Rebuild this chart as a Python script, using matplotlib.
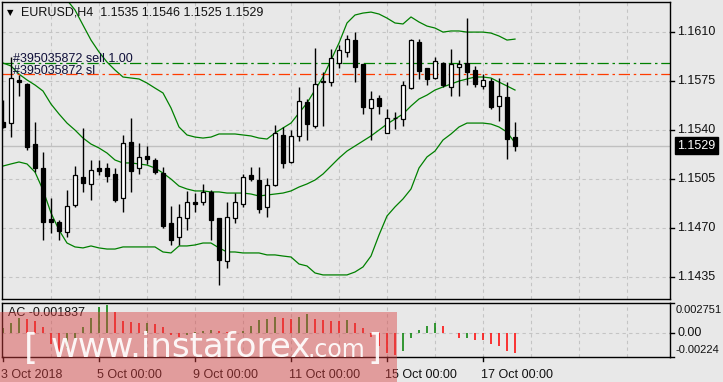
import matplotlib.pyplot as plt
from matplotlib.patches import Rectangle

plt.rcParams['font.family'] = ['Liberation Sans', 'DejaVu Sans']

# EURUSD H4 candles, 3 Oct 2018 00:00 .. 17 Oct 2018 16:00 (65 bars)
opens = [1.15462, 1.15450, 1.15760, 1.15731, 1.15302, 1.15129, 1.14767, 1.14747, 1.14672, 1.14867,
         1.15069, 1.15015, 1.15129, 1.15129, 1.15086, 1.14915, 1.15315, 1.15129, 1.15217, 1.15188,
         1.15093, 1.14736, 1.14636, 1.14772, 1.14890, 1.14886, 1.14962, 1.14772, 1.14469, 1.14772,
         1.14872, 1.15081, 1.15045, 1.14855, 1.15010, 1.15367, 1.15176, 1.15360, 1.15605, 1.15433,
         1.15747, 1.15747, 1.15879, 1.15962, 1.16045, 1.15874, 1.15557, 1.15629, 1.15383, 1.15486,
         1.15479, 1.15705, 1.16029, 1.15843, 1.15776, 1.15879, 1.15707, 1.15855, 1.15883, 1.15831,
         1.15719, 1.15752, 1.15576, 1.15636, 1.15350]
highs = [1.15617, 1.15924, 1.15795, 1.15738, 1.15462, 1.15247, 1.14917, 1.14760, 1.14974, 1.15145,
         1.15415, 1.15188, 1.15188, 1.15165, 1.15129, 1.15367, 1.15486, 1.15307, 1.15288, 1.15202,
         1.15140, 1.14860, 1.14874, 1.14969, 1.14950, 1.15015, 1.14974, 1.14774, 1.14890, 1.14950,
         1.15088, 1.15140, 1.15140, 1.15057, 1.15438, 1.15422, 1.15402, 1.15712, 1.15622, 1.15986,
         1.15819, 1.15981, 1.16010, 1.16081, 1.16100, 1.15874, 1.15681, 1.15652, 1.15550, 1.15531,
         1.15752, 1.16052, 1.16052, 1.15843, 1.15926, 1.15890, 1.15981, 1.15902, 1.16200, 1.15860,
         1.15802, 1.15772, 1.15772, 1.15747, 1.15460]
lows = [1.15417, 1.15352, 1.15645, 1.15260, 1.15105, 1.14617, 1.14667, 1.14617, 1.14640, 1.14852,
        1.14962, 1.14902, 1.15081, 1.15033, 1.14890, 1.14819, 1.14962, 1.15088, 1.15160, 1.15088,
        1.14700, 1.14581, 1.14581, 1.14688, 1.14819, 1.14867, 1.14617, 1.14295, 1.14415, 1.14740,
        1.14855, 1.15038, 1.14812, 1.14783, 1.15002, 1.15133, 1.15167, 1.15326, 1.15331, 1.15415,
        1.15431, 1.15717, 1.15843, 1.15926, 1.15747, 1.15517, 1.15331, 1.15515, 1.15379, 1.15410,
        1.15431, 1.15693, 1.15767, 1.15724, 1.15767, 1.15707, 1.15647, 1.15647, 1.15724, 1.15707,
        1.15693, 1.15552, 1.15469, 1.15193, 1.15250]
closes = [1.15426, 1.15772, 1.15743, 1.15283, 1.15133, 1.14747, 1.14747, 1.14683, 1.14860, 1.15081,
          1.15022, 1.15117, 1.15112, 1.15076, 1.14902, 1.15307, 1.15112, 1.15207, 1.15193, 1.15105,
          1.14719, 1.14617, 1.14783, 1.14886, 1.14872, 1.14962, 1.14760, 1.14474, 1.14783, 1.14886,
          1.15065, 1.15052, 1.14838, 1.15010, 1.15379, 1.15165, 1.15360, 1.15610, 1.15445, 1.15731,
          1.15750, 1.15915, 1.15974, 1.16052, 1.15855, 1.15569, 1.15622, 1.15576, 1.15486, 1.15488,
          1.15724, 1.16045, 1.15826, 1.15767, 1.15895, 1.15724, 1.15874, 1.15872, 1.15819, 1.15729,
          1.15760, 1.15565, 1.15647, 1.15336, 1.15290]

# Bollinger bands (upper starts at bar 6, above the chart before that)
bb_upper = [1.16524, 1.16417, 1.16331, 1.16260, 1.16152, 1.16045, 1.15960, 1.15888, 1.15831, 1.15781,
            1.15774, 1.15767, 1.15738, 1.15702, 1.15667, 1.15560, 1.15424, 1.15367, 1.15352, 1.15345,
            1.15352, 1.15374, 1.15374, 1.15374, 1.15367, 1.15360, 1.15345, 1.15338, 1.15381, 1.15417,
            1.15452, 1.15524, 1.15595, 1.15688, 1.15781, 1.15902, 1.16024, 1.16167, 1.16224, 1.16238,
            1.16245, 1.16231, 1.16202, 1.16167, 1.16160, 1.16210, 1.16174, 1.16145, 1.16131, 1.16102,
            1.16110, 1.16110, 1.16102, 1.16102, 1.16102, 1.16095, 1.16074, 1.16045, 1.16052]
bb_middle = [1.15881, 1.15860, 1.15802, 1.15760, 1.15724, 1.15681, 1.15588, 1.15517, 1.15452, 1.15402,
             1.15345, 1.15302, 1.15274, 1.15238, 1.15188, 1.15167, 1.15167, 1.15160, 1.15152, 1.15131,
             1.15095, 1.15052, 1.15002, 1.14981, 1.14967, 1.14967, 1.14960, 1.14960, 1.14952, 1.14952,
             1.14952, 1.14945, 1.14931, 1.14938, 1.14945, 1.14952, 1.14967, 1.14995, 1.15017, 1.15045,
             1.15088, 1.15145, 1.15202, 1.15252, 1.15288, 1.15324, 1.15360, 1.15402, 1.15445, 1.15481,
             1.15517, 1.15574, 1.15624, 1.15652, 1.15688, 1.15710, 1.15731, 1.15752, 1.15767, 1.15781,
             1.15781, 1.15774, 1.15745, 1.15717, 1.15688]
bb_lower = [1.15145, 1.15160, 1.15174, 1.15160, 1.15102, 1.14974, 1.14810, 1.14688, 1.14595, 1.14567,
            1.14560, 1.14574, 1.14560, 1.14552, 1.14552, 1.14567, 1.14567, 1.14567, 1.14567, 1.14567,
            1.14531, 1.14524, 1.14574, 1.14574, 1.14581, 1.14595, 1.14595, 1.14560, 1.14531, 1.14531,
            1.14524, 1.14524, 1.14524, 1.14510, 1.14510, 1.14502, 1.14495, 1.14445, 1.14431, 1.14381,
            1.14367, 1.14367, 1.14367, 1.14367, 1.14388, 1.14424, 1.14502, 1.14652, 1.14788, 1.14853,
            1.14910, 1.14981, 1.15131, 1.15210, 1.15252, 1.15331, 1.15374, 1.15424, 1.15452, 1.15452,
            1.15452, 1.15445, 1.15424, 1.15388, 1.15310]

# Accelerator oscillator
ac = [0.0004, 0.0009, 0.0014, 0.0013, 0.0011, 0.0005, -0.0010, -0.0018, -0.0014, -0.0007,
      0.0005, 0.0014, 0.0024, 0.0026, 0.0019, 0.0011, 0.0010, 0.0009, 0.0009, 0.0008,
      0.0005, -0.0002, -0.0004, -0.0002, 0.0001, 0.0002, 0.0003, 0.0002, 0.0001, 0.0001,
      0.0002, 0.0006, 0.0012, 0.0013, 0.0015, 0.0014, 0.0013, 0.0015, 0.0017, 0.0013,
      0.0012, 0.0011, 0.0011, 0.0012, 0.0009, 0.0004, -0.0004, -0.0012, -0.0019, -0.0021,
      -0.0017, -0.0005, 0.0003, 0.0006, 0.0009, 0.0006, 0.0000, -0.0005, -0.0005, -0.0007,
      -0.0007, -0.0010, -0.0012, -0.0017, -0.001837]
ac_color = ['g', 'g', 'g', 'r', 'r', 'r', 'r', 'r', 'g', 'g',
            'g', 'g', 'g', 'g', 'r', 'r', 'r', 'r', 'g', 'r',
            'r', 'r', 'r', 'g', 'g', 'g', 'g', 'r', 'r', 'g',
            'g', 'g', 'g', 'g', 'g', 'r', 'r', 'g', 'g', 'r',
            'r', 'r', 'r', 'g', 'r', 'r', 'r', 'r', 'r', 'r',
            'g', 'g', 'g', 'g', 'g', 'r', 'r', 'r', 'g', 'r',
            'r', 'r', 'r', 'r', 'r']

price_ticks = [1.1435, 1.1470, 1.1505, 1.1540, 1.1575, 1.1610]
time_ticks = [0, 12, 24, 36, 48, 60]
time_labels = ['3 Oct 2018', '5 Oct 00:00', '9 Oct 00:00', '11 Oct 00:00', '15 Oct 00:00', '17 Oct 00:00']
order_price = 1.15881
sl_price = 1.15802
last_price = 1.1529
ac_max, ac_min = 0.002751, -0.00224

W, H = 723, 382
bg = '#e8e8e8'
grid_c = '#c4c4c4'
green = '#008000'
red = '#ff0000'

fig = plt.figure(figsize=(W / 100, H / 100), dpi=100)
fig.patch.set_facecolor(bg)


def fig_rect(x0, y0, x1, y1):
    # pixel box (top-left origin) -> figure fraction
    return [x0 / W, 1 - y1 / H, (x1 - x0) / W, (y1 - y0) / H]


ax = fig.add_axes(fig_rect(2, 2, 670, 299))
ax2 = fig.add_axes(fig_rect(2, 303, 670, 357))
xlim = (-0.125, 83.375)

for a in (ax, ax2):
    a.set_facecolor(bg)
    a.set_xlim(*xlim)
    for s in a.spines.values():
        s.set_color('black')
        s.set_linewidth(1)
    a.set_xticks([])
    a.set_yticks([])
    for d in range(6, 84, 6):
        a.axvline(d, color=grid_c, lw=0.8, ls=(0, (3, 3)), zorder=0)

# ---- main chart ----
ax.set_ylim(1.14195, 1.16317)
for p in price_ticks:
    ax.axhline(p, color=grid_c, lw=0.8, ls=(0, (3, 3)), zorder=0)
ax.axhline(last_price, color='#c0c0c0', lw=1, zorder=0.5)

n = len(opens)
xs = list(range(n))
ax.plot(range(6, 6 + len(bb_upper)), bb_upper, color=green, lw=0.9, zorder=1)
ax.plot(xs, bb_middle, color=green, lw=0.9, zorder=1)
ax.plot(xs, bb_lower, color=green, lw=0.9, zorder=1)

ax.axhline(order_price, color=green, lw=0.9, ls=(0, (9, 3, 2, 3)), zorder=1.5)
ax.axhline(sl_price, color='#ff3c00', lw=0.9, ls=(0, (9, 3, 2, 3)), zorder=1.5)

ax.vlines(xs, lows, highs, color='black', lw=1, zorder=2)
for i in xs:
    o, c = opens[i], closes[i]
    up = c >= o
    h = max(abs(c - o), 0.00003)
    ax.bar(i, h, bottom=min(o, c), width=0.56,
           facecolor='white' if up else 'black', edgecolor='black', lw=0.9, zorder=3)

fs = 9
ax.text(1.2, order_price + 0.0003, '#395035872 sell 1.00', fontsize=fs, color='#10103a',
        va='center', ha='left', zorder=4)
ax.text(1.2, sl_price + 0.00025, '#395035872 sl', fontsize=fs, color='#10103a',
        va='center', ha='left', zorder=4)

# right price scale
tr = ax.get_yaxis_transform()
for p in price_ticks:
    ax.plot([1, 1.006], [p, p], color='black', lw=1, transform=tr, clip_on=False)
    ax.text(1.011, p, f'{p:.4f}', transform=tr, fontsize=fs, va='center', ha='left', color='#111111')
ax.text(1.011, last_price, f'{last_price:.4f}', transform=tr, fontsize=fs, va='center', ha='left',
        color='white', bbox=dict(boxstyle='square,pad=0.2', fc='black', ec='black'), zorder=5)

# title line
fig.text(7 / W, 1 - 12.5 / H, '\u25bc', fontsize=6, va='center', ha='left',
         family='DejaVu Sans', color='black')
fig.text(21 / W, 1 - 12.5 / H, 'EURUSD,H4  1.1535 1.1546 1.1525 1.1529', fontsize=fs,
         va='center', ha='left', color='#111111')

# ---- AC sub window ----
ax2.set_ylim(ac_min, ac_max)
ax2.axhline(0, color=grid_c, lw=0.8, ls=(0, (3, 3)), zorder=0)
cols = [green if c == 'g' else red for c in ac_color]
ax2.vlines(xs, 0, ac, colors=cols, lw=1.1, zorder=2)
ax2.text(6 / 668, 0.93, 'AC -0.001837', transform=ax2.transAxes, fontsize=fs,
         va='top', ha='left', color='#111111')
tr2 = ax2.get_yaxis_transform()
for v in (ac_max, 0, ac_min):
    ax2.plot([1, 1.006], [v, v], color='black', lw=1, transform=tr2, clip_on=False)
ax2.text(1.008, 0.97, '0.002751', transform=ax2.transAxes, fontsize=8, va='top', ha='left', color='#111111')
ax2.text(1.011, 0, '0.00', transform=tr2, fontsize=fs, va='center', ha='left', color='#111111')
ax2.text(1.008, 0.04, '-0.00224', transform=ax2.transAxes, fontsize=8, va='bottom', ha='left', color='#111111')

# time axis
trx = ax2.get_xaxis_transform()
for t, lab in zip(time_ticks, time_labels):
    ax2.plot([t, t], [0, -0.07], color='black', lw=1, transform=trx, clip_on=False)
    ax2.text(t - 0.2, -0.22, lab, transform=trx, fontsize=fs, va='top', ha='left', color='#111111')

# watermark
fig.add_artist(Rectangle((0, 0), 397 / W, 70 / H, transform=fig.transFigure,
                         facecolor=(0.85, 0.25, 0.25), alpha=0.45, edgecolor='none', zorder=10))
wm = dict(color='white', alpha=0.92, zorder=11, family='DejaVu Sans', va='baseline', ha='left')
fig.text(24 / W, 1 - 359 / H, '[', fontsize=26, **wm)
fig.text(51 / W, 1 - 357 / H, 'www.instaforex', fontsize=24.5, **wm)
fig.text(307 / W, 1 - 357 / H, '.com', fontsize=17, **wm)
fig.text(367 / W, 1 - 359 / H, ']', fontsize=26, **wm)

fig.savefig('out.png', dpi=100, facecolor=bg)
